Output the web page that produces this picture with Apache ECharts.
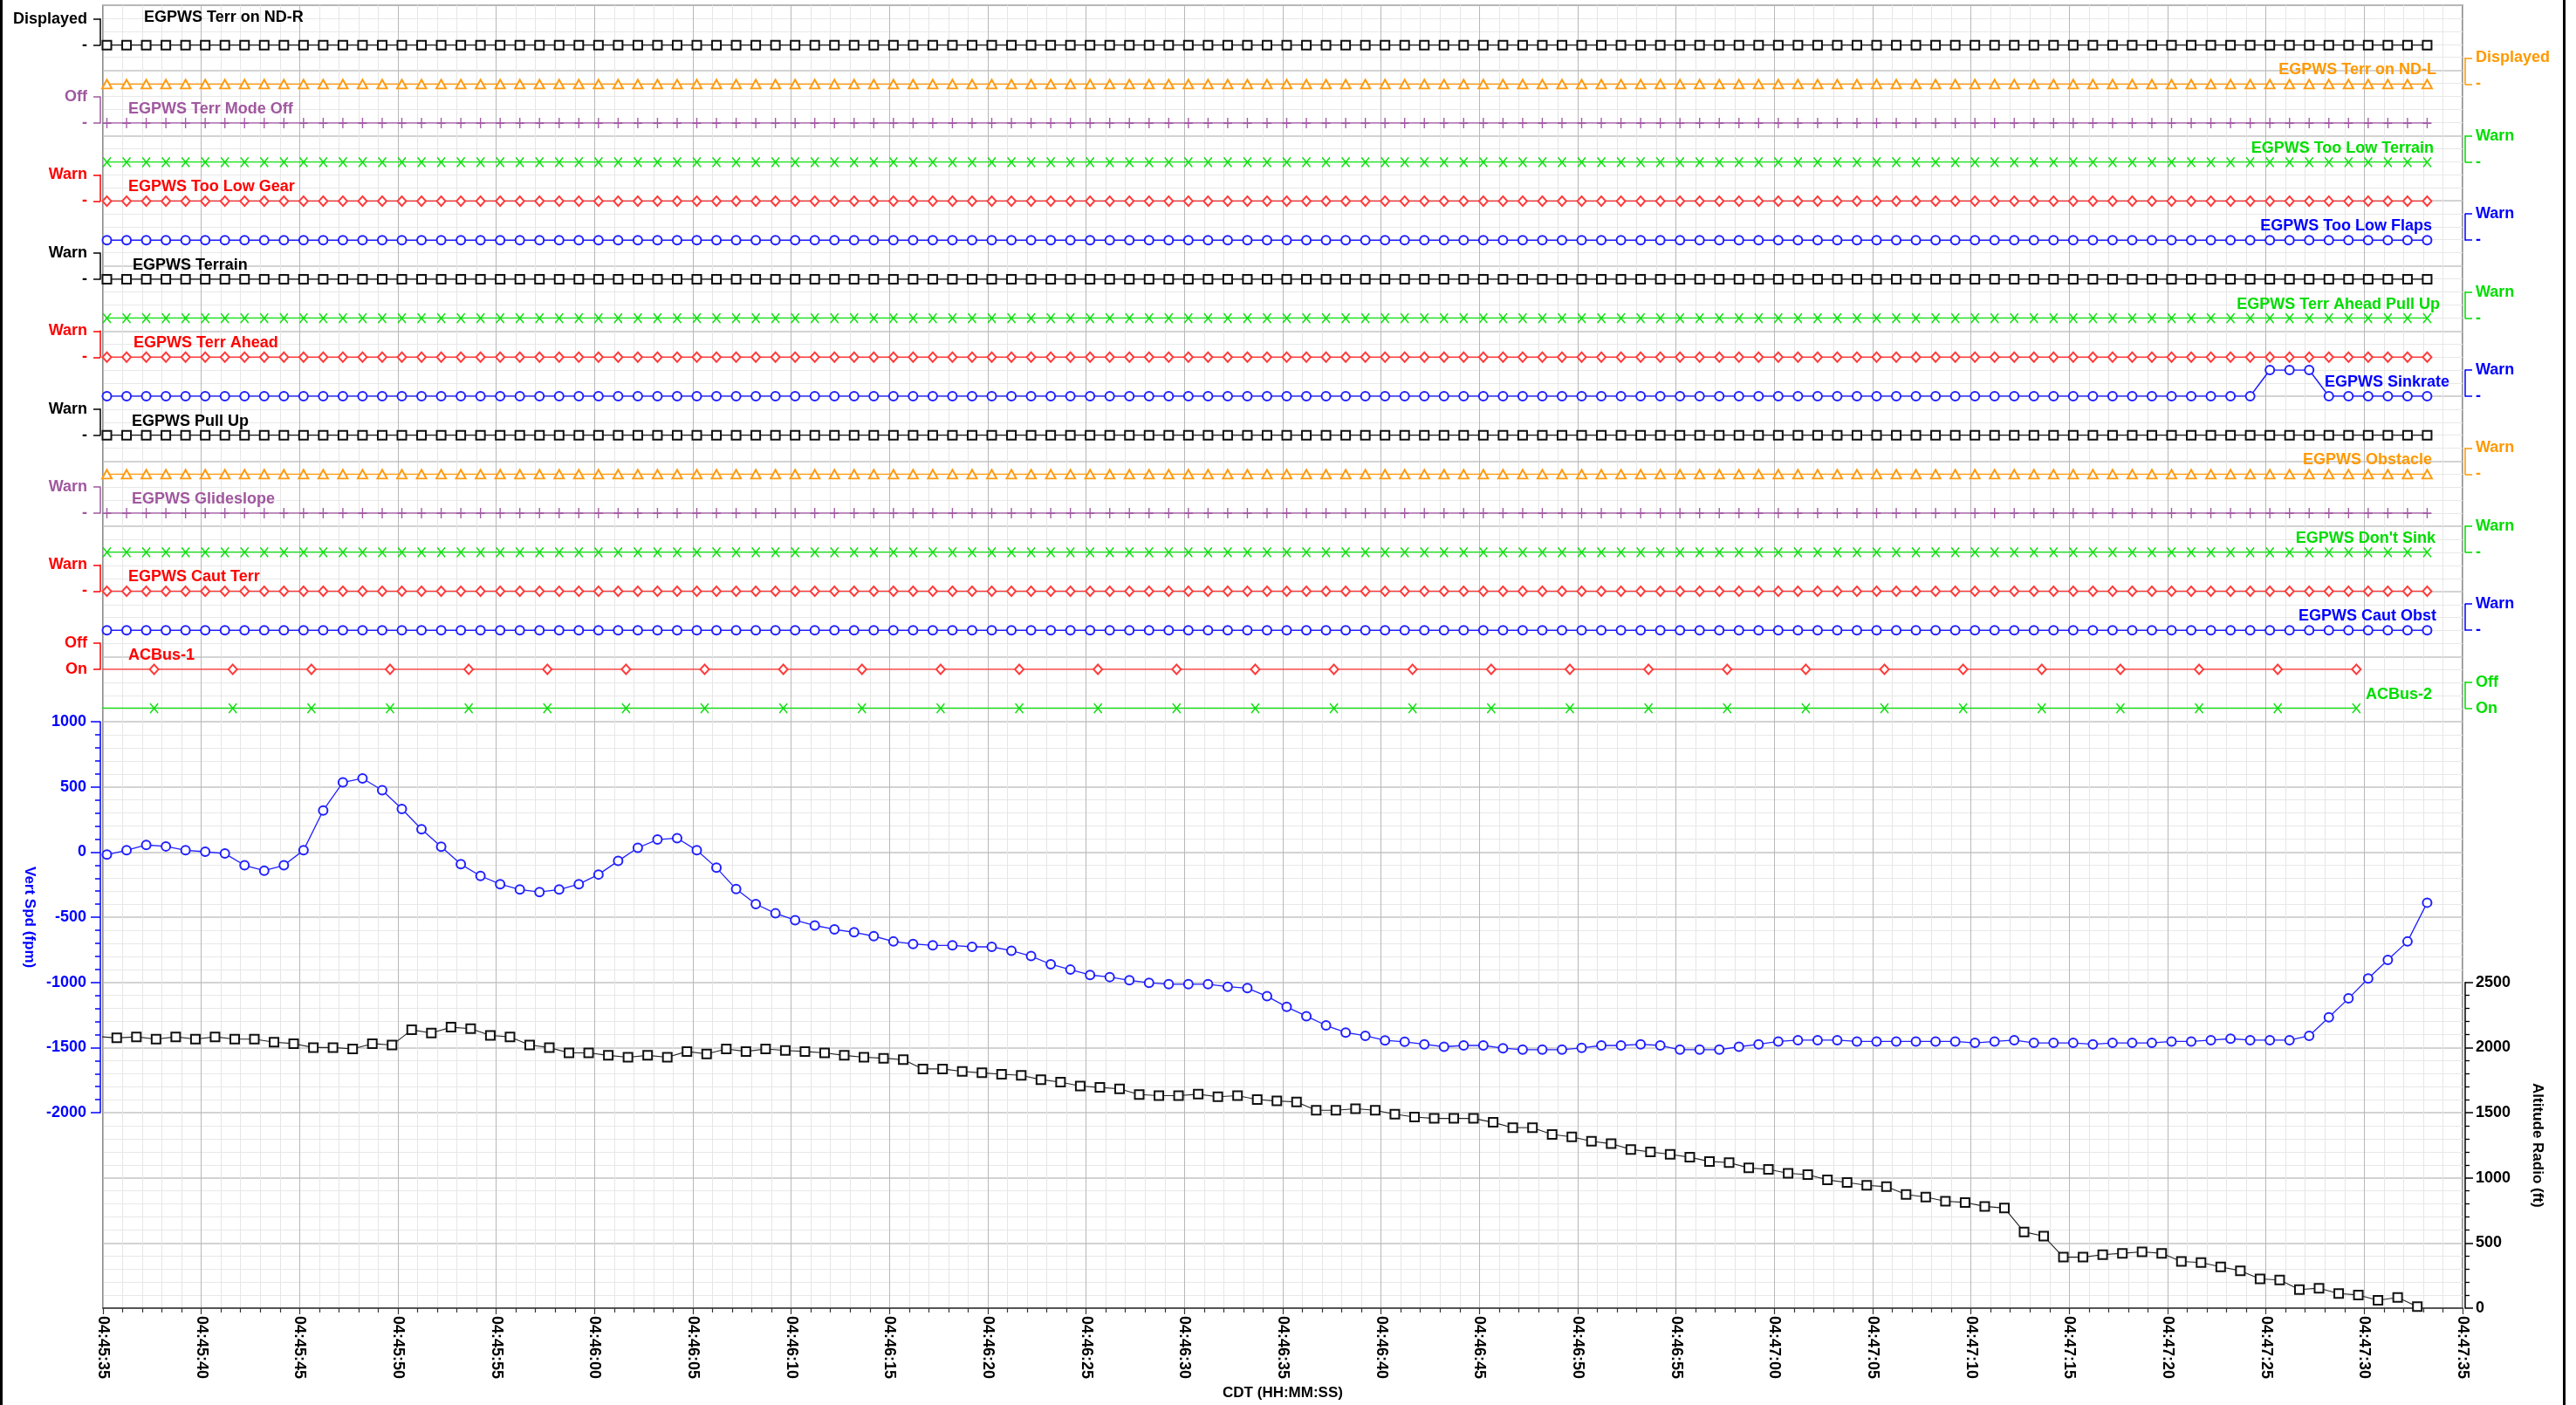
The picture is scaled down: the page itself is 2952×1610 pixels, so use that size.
<!DOCTYPE html>
<html>
<head>
<meta charset="utf-8">
<title>EGPWS discretes, vertical speed and radio altitude</title>
<script src="https://cdn.jsdelivr.net/npm/echarts@6/dist/echarts.min.js"></script>
<style>
  html, body { margin: 0; padding: 0; background: #ffffff; }
  #chart { width: 2952px; height: 1610px; }
</style>
</head>
<body>
<div id="chart"></div>
<script>
// ---------------------------------------------------------------------------
// Data
// ---------------------------------------------------------------------------

// Time axis: seconds after 04:45:35 CDT, labelled every 5 s
const timeTickLabels = [
  '04:45:35', '04:45:40', '04:45:45', '04:45:50', '04:45:55',
  '04:46:00', '04:46:05', '04:46:10', '04:46:15', '04:46:20',
  '04:46:25', '04:46:30', '04:46:35', '04:46:40', '04:46:45',
  '04:46:50', '04:46:55', '04:47:00', '04:47:05', '04:47:10',
  '04:47:15', '04:47:20', '04:47:25', '04:47:30', '04:47:35'
];

// Vertical speed (fpm), 1 Hz, first sample at +0.2 s
const vertSpd = [
  -19, 14, 55, 44, 14, 3, -11, -101, -142, -101,
  14, 320, 535, 566, 475, 331, 175, 41, -93, -183,
  -246, -287, -306, -287, -246, -172, -68, 33, 96, 107,
  14, -120, -284, -399, -470, -522, -563, -593, -615, -645,
  -686, -705, -716, -716, -727, -727, -757, -798, -861, -902,
  -943, -959, -984, -1003, -1014, -1014, -1014, -1033, -1044, -1106,
  -1188, -1259, -1330, -1385, -1410, -1445, -1456, -1475, -1494, -1484,
  -1484, -1505, -1516, -1516, -1516, -1503, -1484, -1484, -1475, -1484,
  -1516, -1516, -1516, -1494, -1475, -1453, -1443, -1443, -1443, -1453,
  -1453, -1453, -1453, -1453, -1453, -1464, -1453, -1443, -1464, -1464,
  -1464, -1475, -1464, -1464, -1464, -1453, -1453, -1443, -1432, -1443,
  -1443, -1443, -1410, -1268, -1123, -970, -828, -686, -388
];

// Radio altitude (ft), 1 Hz, first sample at -0.3 s (just before the window)
const altRadio = [
  2085,
  2074, 2082, 2065, 2082, 2065, 2082, 2065, 2065, 2041, 2030,
  2000, 2000, 1989, 2030, 2019, 2136, 2112, 2156, 2145, 2093,
  2082, 2019, 2000, 1959, 1959, 1940, 1926, 1940, 1926, 1970,
  1951, 1989, 1970, 1989, 1978, 1970, 1959, 1940, 1926, 1918,
  1907, 1836, 1836, 1817, 1806, 1795, 1787, 1754, 1735, 1705,
  1694, 1683, 1639, 1631, 1631, 1642, 1623, 1631, 1601, 1590,
  1582, 1519, 1519, 1530, 1519, 1489, 1467, 1456, 1456, 1456,
  1426, 1385, 1385, 1333, 1314, 1281, 1262, 1218, 1199, 1180,
  1158, 1126, 1117, 1076, 1065, 1035, 1025, 984, 964, 943,
  932, 872, 852, 820, 811, 781, 768, 585, 552, 391,
  391, 410, 421, 432, 421, 358, 350, 317, 287, 224,
  216, 142, 153, 112, 101, 60, 82, 11
];

// Discrete channels, top to bottom
const channelNames = [
  'EGPWS Terr on ND-R', 'EGPWS Terr on ND-L', 'EGPWS Terr Mode Off', 'EGPWS Too Low Terrain',
  'EGPWS Too Low Gear', 'EGPWS Too Low Flaps', 'EGPWS Terrain', 'EGPWS Terr Ahead Pull Up',
  'EGPWS Terr Ahead', 'EGPWS Sinkrate', 'EGPWS Pull Up', 'EGPWS Obstacle',
  'EGPWS Glideslope', "EGPWS Don't Sink", 'EGPWS Caut Terr', 'EGPWS Caut Obst',
  'ACBus-1', 'ACBus-2'
];

// State labels: [low, high]
const channelStateText = [
  ['-', 'Displayed'], ['-', 'Displayed'], ['-', 'Off'], ['-', 'Warn'],
  ['-', 'Warn'], ['-', 'Warn'], ['-', 'Warn'], ['-', 'Warn'],
  ['-', 'Warn'], ['-', 'Warn'], ['-', 'Warn'], ['-', 'Warn'],
  ['-', 'Warn'], ['-', 'Warn'], ['-', 'Warn'], ['-', 'Warn'],
  ['On', 'Off'], ['On', 'Off']
];

// Recorded states as runs of [sample count, state]
const channelRuns = [
  [[119, 0]], [[119, 0]], [[119, 0]], [[119, 0]],
  [[119, 0]], [[119, 0]], [[119, 0]], [[119, 0]],
  [[119, 0]], [[110, 0], [3, 1], [6, 0]], [[119, 0]], [[119, 0]],
  [[119, 0]], [[119, 0]], [[119, 0]], [[119, 0]],
  [[30, 0]], [[30, 0]]
];

// Sampling of each channel: [first sample time (s), period (s)]
const channelSampling = [
  [0.2, 1], [0.2, 1], [0.2, 1], [0.2, 1], [0.2, 1], [0.2, 1],
  [0.2, 1], [0.2, 1], [0.2, 1], [0.2, 1], [0.2, 1], [0.2, 1],
  [0.2, 1], [0.2, 1], [0.2, 1], [0.2, 1], [-1.4, 4], [-1.4, 4]
];
const vertSpdSampling = [0.2, 1];
const altRadioSampling = [-0.3, 1];

// ---------------------------------------------------------------------------
// Styles and layout
// ---------------------------------------------------------------------------
const FONT = '"Liberation Sans", Arial, sans-serif';
const C = {
  black:  { line: '#111111', text: '#000000' },
  orange: { line: '#ff9a10', text: '#ff9900' },
  purple: { line: '#a35ba5', text: '#a0589f' },
  green:  { line: '#10e010', text: '#00dd00' },
  red:    { line: '#ff3a3a', text: '#ff0000' },
  blue:   { line: '#2020ff', text: '#0000ff' }
};
const SYM = {
  square:   { symbol: 'emptyRect', size: [10, 10] },
  triangle: { symbol: 'emptyTriangle', size: [11, 10] },
  plus:     { symbol: 'path://M5,0L5,10M0,5L10,5', size: [10, 12] },
  cross:    { symbol: 'path://M0,0L10,10M10,0L0,10', size: [9, 11] },
  diamond:  { symbol: 'emptyDiamond', size: [10, 11] },
  circle:   { symbol: 'emptyCircle', size: [10, 10] }
};
const channelLook = [
  ['black', 'square'], ['orange', 'triangle'], ['purple', 'plus'], ['green', 'cross'],
  ['red', 'diamond'], ['blue', 'circle'], ['black', 'square'], ['green', 'cross'],
  ['red', 'diamond'], ['blue', 'circle'], ['black', 'square'], ['orange', 'triangle'],
  ['purple', 'plus'], ['green', 'cross'], ['red', 'diamond'], ['blue', 'circle'],
  ['red', 'diamond'], ['green', 'cross']
];
// name label anchor: left-side channels give the text start, right-side ones its end
const nameAnchorX = [165, 2792, 147, 2789, 147, 2787, 152, 2796, 153, 2807, 151, 2787, 151, 2791, 147, 2792, 147, 2787];

const PLOT = { left: 118, top: 6, width: 2704, height: 1493 };
const DIV = PLOT.height / 20;          // one major horizontal division
const CH_BASE0 = 51.7, CH_STEP = 44.7, CH_SPAN = 30;

// plain integer tick text, no digit grouping
const plainNumber = v => String(Math.round(v));

// ---------------------------------------------------------------------------
// Build option
// ---------------------------------------------------------------------------
const grids = [], xAxes = [], yAxes = [], series = [], graphics = [];

function hiddenX(g) {
  return { gridIndex: g, type: 'value', min: 0, max: 120, show: false, axisLine: { onZero: false } };
}
function sampleTimes(sampling, n) {
  const out = [];
  for (let k = 0; k < n; k++) out.push(+(sampling[0] + k * sampling[1]).toFixed(2));
  return out;
}
function expandRuns(runs) {
  const out = [];
  runs.forEach(([n, s]) => { for (let k = 0; k < n; k++) out.push(s); });
  return out;
}

// 0: background plot with time axis and grid
grids.push({ left: PLOT.left, top: PLOT.top, width: PLOT.width, height: PLOT.height,
  show: true, borderColor: '#6a6a6a', borderWidth: 1.5, backgroundColor: '#ffffff',
  containLabel: false, outerBoundsMode: 'none' });
xAxes.push({
  gridIndex: 0, type: 'value', min: 0, max: 120, interval: 5,
  axisLine: { show: true, onZero: false, lineStyle: { color: '#555555', width: 2 } },
  axisTick: { show: true, length: 7, lineStyle: { color: '#333333', width: 1.2 } },
  minorTick: { show: true, splitNumber: 5, length: 5, lineStyle: { color: '#333333', width: 1.2 } },
  axisLabel: {
    rotate: -90, margin: 9, color: '#000000', fontFamily: FONT, fontWeight: 'bold', fontSize: 18,
    formatter: v => timeTickLabels[Math.round(v / 5)]
  },
  splitLine: { show: true, lineStyle: { color: '#b8b8b8', width: 1 } },
  minorSplitLine: { show: true, lineStyle: { color: '#e6e6e6', width: 1 } },
  name: 'CDT (HH:MM:SS)', nameLocation: 'middle', nameGap: 87,
  nameTextStyle: { color: '#000000', fontFamily: FONT, fontWeight: 'bold', fontSize: 17 }
});
yAxes.push({
  gridIndex: 0, type: 'value', min: 0, max: 20, interval: 1,
  axisLine: { show: false, onZero: false }, axisTick: { show: false }, axisLabel: { show: false },
  minorTick: { show: false, splitNumber: 5 },
  splitLine: { show: true, lineStyle: { color: '#c4c4c4', width: 1.5 } },
  minorSplitLine: { show: true, lineStyle: { color: '#e8e8e8', width: 1 } }
});

// 1: vertical speed
grids.push({ left: PLOT.left, width: PLOT.width, top: PLOT.top + 11 * DIV, height: 6 * DIV,
  containLabel: false, outerBoundsMode: 'none' });
xAxes.push(hiddenX(1));
yAxes.push({
  gridIndex: 1, type: 'value', position: 'left', offset: 3, min: -2000, max: 1000, interval: 500,
  axisLine: { show: true, onZero: false, lineStyle: { color: C.blue.text, width: 1.5 } },
  axisTick: { show: true, length: 11, lineStyle: { color: C.blue.text, width: 1.5 } },
  minorTick: { show: true, splitNumber: 5, length: 6, lineStyle: { color: C.blue.text, width: 1.5 } },
  axisLabel: { color: C.blue.text, fontFamily: FONT, fontWeight: 'bold', fontSize: 18, margin: 16,
    formatter: plainNumber },
  splitLine: { show: false },
  name: 'Vert Spd (fpm)', nameLocation: 'middle', nameRotate: -90, nameGap: 72,
  nameTextStyle: { color: C.blue.text, fontFamily: FONT, fontWeight: 'bold', fontSize: 17 }
});
series.push({
  name: 'Vert Spd', type: 'line', xAxisIndex: 1, yAxisIndex: 1,
  data: sampleTimes(vertSpdSampling, vertSpd.length).map((t, k) => [t, vertSpd[k]]),
  symbol: 'emptyCircle', symbolSize: 10,
  lineStyle: { color: C.blue.line, width: 1.3 },
  itemStyle: { color: C.blue.line, borderWidth: 1.4 },
  clip: true, silent: true, animation: false, z: 5
});

// 2: radio altitude
grids.push({ left: PLOT.left, width: PLOT.width, top: PLOT.top + 15 * DIV, height: 5 * DIV,
  containLabel: false, outerBoundsMode: 'none' });
xAxes.push(hiddenX(2));
yAxes.push({
  gridIndex: 2, type: 'value', position: 'right', offset: 3, min: 0, max: 2500, interval: 500,
  axisLine: { show: true, onZero: false, lineStyle: { color: '#000000', width: 1.5 } },
  axisTick: { show: true, length: 9, lineStyle: { color: '#000000', width: 1.5 } },
  minorTick: { show: true, splitNumber: 5, length: 5, lineStyle: { color: '#000000', width: 1.3 } },
  axisLabel: { color: '#000000', fontFamily: FONT, fontWeight: 'bold', fontSize: 18, margin: 12,
    formatter: plainNumber },
  splitLine: { show: false },
  name: 'Altitude Radio (ft)', nameLocation: 'middle', nameRotate: -90, nameGap: 74,
  nameTextStyle: { color: '#000000', fontFamily: FONT, fontWeight: 'bold', fontSize: 17 }
});
series.push({
  name: 'Altitude Radio', type: 'line', xAxisIndex: 2, yAxisIndex: 2,
  data: sampleTimes(altRadioSampling, altRadio.length).map((t, k) => [t, altRadio[k]]),
  symbol: 'emptyRect', symbolSize: [10, 10],
  lineStyle: { color: '#222222', width: 1.1 },
  itemStyle: { color: '#111111', borderWidth: 1.5 },
  clip: true, silent: true, animation: false, z: 5
});

// 3..: discrete channels
channelNames.forEach((name, i) => {
  const g = grids.length;
  const base = CH_BASE0 + i * CH_STEP;
  const side = i % 2 === 0 ? 'left' : 'right';
  const col = C[channelLook[i][0]];
  const sym = SYM[channelLook[i][1]];
  const states = expandRuns(channelRuns[i]);
  const times = sampleTimes(channelSampling[i], states.length);

  grids.push({ left: PLOT.left, width: PLOT.width, top: base - CH_SPAN, height: CH_SPAN,
    containLabel: false, outerBoundsMode: 'none' });
  xAxes.push(hiddenX(g));
  yAxes.push({
    gridIndex: g, type: 'category', data: channelStateText[i], boundaryGap: false,
    position: side, offset: 3,
    axisLine: { show: true, onZero: false, lineStyle: { color: col.text, width: 1.5 } },
    axisTick: { show: true, inside: false, length: 8, alignWithLabel: true,
      lineStyle: { color: col.text, width: 1.5 } },
    axisLabel: { show: true, interval: 0, color: col.text, fontFamily: FONT, fontWeight: 'bold',
      fontSize: 18, margin: side === 'left' ? 15 : 12 },
    splitLine: { show: false }, splitArea: { show: false }
  });
  series.push({
    name, type: 'line', xAxisIndex: g, yAxisIndex: g,
    data: times.map((t, k) => [t, states[k]]),
    symbol: sym.symbol, symbolSize: sym.size, showAllSymbol: true,
    lineStyle: { color: col.line, width: 1.5 },
    itemStyle: { color: col.line, borderColor: col.line, borderWidth: 1.5 },
    clip: true, silent: true, animation: false, z: 4
  });

  graphics.push({
    type: 'text', silent: true, z: 10,
    x: nameAnchorX[i], y: base - (i === 0 ? 32 : 16),
    style: {
      text: name, fill: col.text, font: 'bold 18px ' + FONT,
      align: side === 'left' ? 'left' : 'right', verticalAlign: 'middle'
    }
  });
});

// frame strips at the outer edges
graphics.push({ type: 'rect', silent: true, shape: { x: 0, y: 0, width: 3, height: 1610 }, style: { fill: '#000000' } });
graphics.push({ type: 'rect', silent: true, shape: { x: 2937, y: 0, width: 3, height: 1610 }, style: { fill: '#000000' } });

const chart = echarts.init(document.getElementById('chart'), null, { renderer: 'canvas' });
chart.setOption({
  backgroundColor: '#ffffff',
  animation: false,
  textStyle: { fontFamily: FONT },
  grid: grids,
  xAxis: xAxes,
  yAxis: yAxes,
  series: series,
  graphic: graphics
});
</script>
</body>
</html>
